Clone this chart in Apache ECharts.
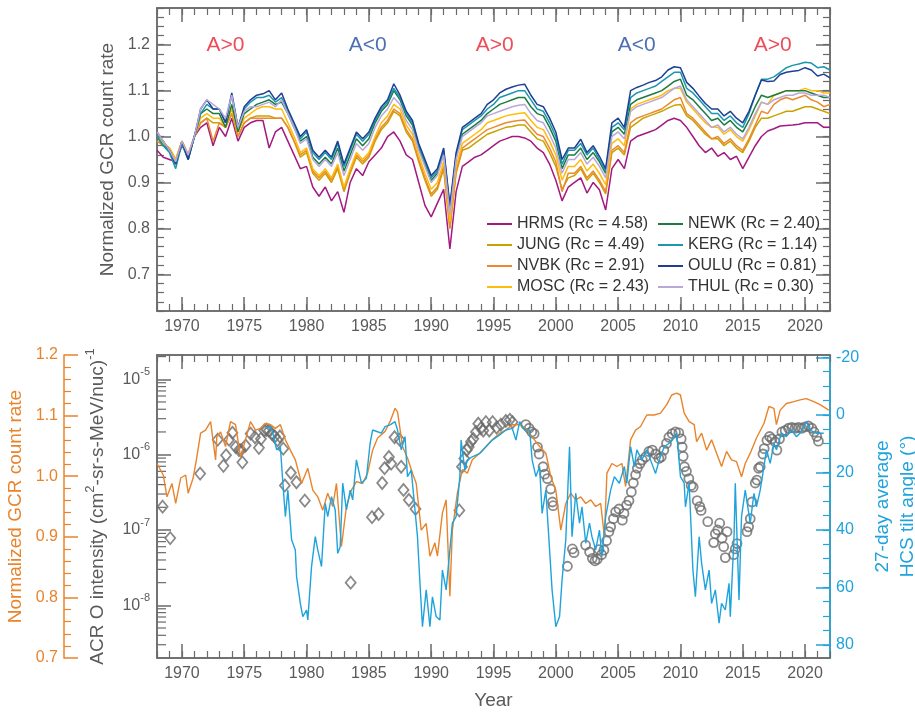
<!DOCTYPE html>
<html>
<head>
<meta charset="utf-8">
<script src="https://cdn.jsdelivr.net/npm/echarts@6/dist/echarts.min.js"></script>
<style>
  html, body { margin: 0; padding: 0; background: #fff; }
  #chart { width: 915px; height: 712px; }
</style>
</head>
<body>
<div id="chart"></div>
<script>
// ---- top panel: neutron monitor count rates, half-year samples ----
const years = [
  1968, 1968.5, 1969, 1969.5, 1970, 1970.5, 1971, 1971.5,
  1972, 1972.5, 1973, 1973.5, 1974, 1974.5, 1975, 1975.5,
  1976, 1976.5, 1977, 1977.5, 1978, 1978.5, 1979, 1979.5,
  1980, 1980.5, 1981, 1981.5, 1982, 1982.5, 1983, 1983.5,
  1984, 1984.5, 1985, 1985.5, 1986, 1986.5, 1987, 1987.5,
  1988, 1988.5, 1989, 1989.5, 1990, 1990.5, 1991, 1991.5,
  1992, 1992.5, 1993, 1993.5, 1994, 1994.5, 1995, 1995.5,
  1996, 1996.5, 1997, 1997.5, 1998, 1998.5, 1999, 1999.5,
  2000, 2000.5, 2001, 2001.5, 2002, 2002.5, 2003, 2003.5,
  2004, 2004.5, 2005, 2005.5, 2006, 2006.5, 2007, 2007.5,
  2008, 2008.5, 2009, 2009.5, 2010, 2010.5, 2011, 2011.5,
  2012, 2012.5, 2013, 2013.5, 2014, 2014.5, 2015, 2015.5,
  2016, 2016.5, 2017, 2017.5, 2018, 2018.5, 2019, 2019.5,
  2020, 2020.5, 2021, 2021.5, 2022
];

const hrms = [
  0.970, 0.955, 0.950, 0.945, 0.980, 0.960, 1.000, 1.020,
  1.030, 0.980, 1.020, 1.000, 1.040, 0.990, 1.020, 1.030,
  1.035, 1.035, 0.975, 1.010, 1.020, 0.990, 0.960, 0.930,
  0.935, 0.890, 0.870, 0.890, 0.860, 0.880, 0.835, 0.900,
  0.930, 0.915, 0.945, 0.960, 0.975, 1.000, 1.010, 0.990,
  0.960, 0.950, 0.900, 0.850, 0.825, 0.855, 0.885, 0.755,
  0.880, 0.935, 0.945, 0.955, 0.960, 0.970, 0.980, 0.990,
  0.995, 1.000, 1.000, 0.997, 0.990, 0.975, 0.965, 0.940,
  0.905, 0.860, 0.890, 0.900, 0.910, 0.877, 0.900, 0.884,
  0.840, 0.930, 0.950, 0.930, 0.990, 1.000, 1.005, 1.010,
  1.015, 1.025, 1.035, 1.040, 1.035, 1.020, 1.000, 0.980,
  0.965, 0.975, 0.957, 0.965, 0.950, 0.957, 0.930, 0.955,
  0.980, 1.000, 1.012, 1.017, 1.023, 1.024, 1.025, 1.027,
  1.030, 1.030, 1.030, 1.020, 1.020
];
const jung = [
  1.000, 0.985, 0.975, 0.950, 0.990, 0.960, 1.000, 1.030,
  1.040, 1.030, 1.030, 1.020, 1.050, 1.000, 1.030, 1.040,
  1.045, 1.045, 1.045, 1.040, 1.040, 1.020, 0.990, 0.955,
  0.965, 0.920, 0.905, 0.920, 0.900, 0.930, 0.880, 0.920,
  0.955, 0.940, 0.955, 0.990, 1.015, 1.030, 1.055, 1.045,
  1.010, 0.990, 0.945, 0.905, 0.870, 0.885, 0.930, 0.800,
  0.920, 0.970, 0.975, 0.985, 0.995, 1.005, 1.010, 1.015,
  1.020, 1.022, 1.025, 1.025, 1.010, 0.995, 0.990, 0.965,
  0.935, 0.885, 0.910, 0.915, 0.930, 0.905, 0.920, 0.900,
  0.875, 0.965, 0.975, 0.960, 1.020, 1.030, 1.040, 1.045,
  1.050, 1.055, 1.062, 1.068, 1.070, 1.045, 1.035, 1.020,
  1.005, 0.995, 0.995, 0.980, 0.990, 0.975, 0.965, 0.990,
  1.020, 1.040, 1.040, 1.045, 1.050, 1.055, 1.055, 1.060,
  1.065, 1.065, 1.060, 1.055, 1.050
];
const nvbk = [
  0.990, 0.980, 0.975, 0.950, 0.990, 0.960, 1.000, 1.030,
  1.040, 0.990, 1.030, 1.020, 1.050, 1.000, 1.030, 1.040,
  1.040, 1.040, 1.040, 1.040, 1.040, 1.020, 0.990, 0.960,
  0.970, 0.925, 0.910, 0.925, 0.905, 0.935, 0.885, 0.925,
  0.960, 0.945, 0.960, 0.995, 1.020, 1.035, 1.060, 1.050,
  1.015, 0.995, 0.950, 0.910, 0.875, 0.890, 0.935, 0.800,
  0.925, 0.975, 0.985, 0.995, 1.005, 1.015, 1.020, 1.025,
  1.030, 1.033, 1.035, 1.036, 1.020, 1.005, 1.000, 0.975,
  0.945, 0.880, 0.920, 0.920, 0.935, 0.910, 0.925, 0.905,
  0.880, 0.970, 0.980, 0.965, 1.030, 1.040, 1.045, 1.050,
  1.055, 1.060, 1.070, 1.080, 1.085, 1.050, 1.040, 1.025,
  1.010, 0.995, 1.000, 0.985, 0.995, 0.980, 0.970, 0.995,
  1.025, 1.055, 1.050, 1.070, 1.080, 1.085, 1.080, 1.085,
  1.090, 1.080, 1.075, 1.065, 1.070
];
const mosc = [
  1.000, 0.985, 0.975, 0.950, 0.990, 0.960, 1.000, 1.040,
  1.050, 1.040, 1.040, 1.020, 1.060, 1.010, 1.040, 1.050,
  1.060, 1.065, 1.065, 1.060, 1.060, 1.030, 1.000, 0.965,
  0.975, 0.930, 0.915, 0.930, 0.910, 0.940, 0.890, 0.930,
  0.965, 0.950, 0.965, 1.000, 1.030, 1.045, 1.070, 1.060,
  1.025, 1.005, 0.960, 0.920, 0.885, 0.900, 0.945, 0.815,
  0.935, 0.985, 0.995, 1.005, 1.015, 1.030, 1.035, 1.040,
  1.045, 1.048, 1.050, 1.052, 1.035, 1.020, 1.015, 0.990,
  0.960, 0.905, 0.935, 0.935, 0.950, 0.925, 0.940, 0.920,
  0.895, 0.985, 0.995, 0.980, 1.060, 1.070, 1.075, 1.080,
  1.085, 1.090, 1.100, 1.105, 1.105, 1.075, 1.060, 1.045,
  1.030, 1.020, 1.020, 1.005, 1.015, 1.000, 0.990, 1.015,
  1.045, 1.075, 1.070, 1.090, 1.095, 1.100, 1.100, 1.100,
  1.105, 1.100, 1.100, 1.095, 1.095
];
const newk = [
  1.000, 0.980, 0.970, 0.940, 0.985, 0.950, 1.000, 1.050,
  1.060, 1.050, 1.050, 1.020, 1.070, 1.010, 1.050, 1.060,
  1.070, 1.075, 1.080, 1.070, 1.075, 1.050, 1.020, 0.990,
  1.000, 0.955, 0.940, 0.955, 0.940, 0.975, 0.925, 0.960,
  0.995, 0.980, 0.995, 1.030, 1.055, 1.070, 1.100, 1.080,
  1.045, 1.025, 0.975, 0.940, 0.905, 0.920, 0.965, 0.840,
  0.955, 1.005, 1.015, 1.025, 1.035, 1.050, 1.060, 1.070,
  1.075, 1.080, 1.085, 1.085, 1.065, 1.050, 1.045, 1.020,
  0.990, 0.930, 0.960, 0.960, 0.975, 0.950, 0.965, 0.945,
  0.920, 1.010, 1.020, 1.005, 1.070, 1.080, 1.085, 1.090,
  1.095, 1.100, 1.110, 1.120, 1.125, 1.090, 1.080, 1.065,
  1.050, 1.035, 1.040, 1.025, 1.035, 1.020, 1.010, 1.035,
  1.065, 1.090, 1.085, 1.090, 1.095, 1.100, 1.100, 1.100,
  1.100, 1.095, 1.090, 1.085, 1.085
];
const kerg = [
  1.000, 0.980, 0.965, 0.930, 0.985, 0.950, 1.000, 1.050,
  1.070, 1.060, 1.060, 1.030, 1.090, 1.020, 1.060, 1.075,
  1.085, 1.085, 1.090, 1.075, 1.085, 1.055, 1.025, 0.995,
  1.010, 0.965, 0.950, 0.965, 0.950, 0.985, 0.935, 0.970,
  1.005, 0.990, 1.005, 1.035, 1.060, 1.075, 1.105, 1.085,
  1.050, 1.030, 0.980, 0.945, 0.910, 0.925, 0.970, 0.845,
  0.960, 1.015, 1.025, 1.035, 1.045, 1.060, 1.070, 1.085,
  1.090, 1.095, 1.100, 1.100, 1.080, 1.060, 1.055, 1.030,
  1.000, 0.940, 0.970, 0.970, 0.985, 0.960, 0.975, 0.950,
  0.925, 1.020, 1.030, 1.015, 1.085, 1.095, 1.100, 1.105,
  1.110, 1.120, 1.130, 1.140, 1.140, 1.105, 1.095, 1.080,
  1.065, 1.050, 1.050, 1.035, 1.045, 1.030, 1.020, 1.050,
  1.090, 1.125, 1.125, 1.130, 1.140, 1.150, 1.155, 1.158,
  1.162, 1.160, 1.150, 1.152, 1.145
];
const oulu = [
  1.010, 0.990, 0.970, 0.940, 0.990, 0.950, 1.000, 1.060,
  1.080, 1.060, 1.060, 1.030, 1.095, 1.020, 1.065, 1.080,
  1.090, 1.093, 1.100, 1.080, 1.095, 1.060, 1.030, 1.000,
  1.015, 0.970, 0.955, 0.970, 0.955, 0.990, 0.940, 0.975,
  1.010, 0.995, 1.010, 1.040, 1.065, 1.080, 1.115, 1.090,
  1.055, 1.035, 0.985, 0.950, 0.915, 0.930, 0.975, 0.850,
  0.965, 1.020, 1.030, 1.040, 1.050, 1.070, 1.080, 1.095,
  1.103, 1.108, 1.112, 1.114, 1.090, 1.070, 1.065, 1.040,
  1.010, 0.950, 0.975, 0.975, 0.994, 0.965, 0.980, 0.957,
  0.930, 1.030, 1.040, 1.020, 1.100, 1.107, 1.112, 1.118,
  1.122, 1.130, 1.145, 1.152, 1.150, 1.118, 1.105, 1.088,
  1.072, 1.060, 1.060, 1.045, 1.055, 1.040, 1.030, 1.055,
  1.090, 1.123, 1.120, 1.121, 1.135, 1.140, 1.142, 1.144,
  1.150, 1.145, 1.132, 1.136, 1.128
];
const thul = [
  1.010, 0.990, 0.970, 0.945, 0.990, 0.960, 1.000, 1.060,
  1.080, 1.070, 1.060, 1.040, 1.090, 1.020, 1.055, 1.065,
  1.065, 1.070, 1.075, 1.065, 1.080, 1.050, 1.020, 0.985,
  0.995, 0.950, 0.935, 0.950, 0.935, 0.965, 0.915, 0.950,
  0.985, 0.970, 0.985, 1.020, 1.045, 1.060, 1.085, 1.070,
  1.035, 1.015, 0.970, 0.935, 0.900, 0.915, 0.960, 0.830,
  0.950, 1.000, 1.010, 1.020, 1.030, 1.045, 1.050, 1.055,
  1.060, 1.065, 1.068, 1.070, 1.050, 1.035, 1.030, 1.005,
  0.975, 0.920, 0.950, 0.950, 0.965, 0.940, 0.955, 0.935,
  0.910, 1.000, 1.010, 0.995, 1.055, 1.065, 1.070, 1.075,
  1.080, 1.085, 1.095, 1.105, 1.110, 1.080, 1.065, 1.050,
  1.035, 1.020, 1.025, 1.010, 1.020, 1.005, 0.995, 1.020,
  1.050, 1.075, 1.070, 1.080, 1.085, 1.090, 1.090, 1.095,
  1.095, 1.090, 1.090, 1.090, 1.085
];

const polarityYears = [1973.5, 1984.9, 1995.1, 2006.5, 2017.4];
const polarityText = ['A>0', 'A<0', 'A>0', 'A<0', 'A>0'];
const polarityLevel = 1.2;

// ---- bottom panel ----
// [year, normalized GCR count rate]
const gcrRate = [
  [1968.0,1.021],[1968.5,1.002],[1968.8,0.966],[1969.2,0.988],[1969.5,0.955],[1969.9,0.997],
  [1970.3,1.002],[1970.5,0.972],[1970.9,0.997],[1971.2,1.032],[1971.5,1.071],[1971.9,1.076],
  [1972.3,1.09],[1972.7,1.027],[1972.8,1.065],[1973.1,1.073],[1973.5,1.049],[1973.9,1.09],
  [1974.3,1.085],[1974.7,1.032],[1975.1,1.06],[1975.5,1.09],[1975.9,1.076],[1976.3,1.079],
  [1976.7,1.087],[1977.1,1.085],[1977.5,1.079],[1977.9,1.085],[1978.3,1.06],[1978.7,1.043],
  [1979.1,1.027],[1979.6,0.988],[1980.1,1.013],[1980.5,0.977],[1980.9,0.966],[1981.3,0.944],
  [1981.7,0.972],[1982.1,0.95],[1982.4,0.988],[1982.8,0.884],[1983.2,0.95],[1983.6,0.977],
  [1984.0,0.991],[1984.5,0.988],[1984.9,1.005],[1985.3,1.043],[1985.7,1.063],[1986.3,1.074],
  [1986.7,1.09],[1987.1,1.112],[1987.3,1.106],[1987.7,1.049],[1988.1,1.03],[1988.5,1.005],
  [1988.8,0.988],[1989.2,0.911],[1989.6,0.922],[1989.9,0.868],[1990.3,0.89],[1990.5,0.868],
  [1990.9,0.939],[1991.2,0.961],[1991.5,0.802],[1991.7,0.911],[1992.1,0.972],[1992.5,1.011],
  [1992.9,1.005],[1993.3,1.027],[1993.9,1.038],[1994.4,1.049],[1994.9,1.06],[1995.5,1.071],
  [1996.0,1.076],[1996.5,1.085],[1997.1,1.085],[1997.6,1.079],[1998.1,1.065],[1998.7,1.049],
  [1999.2,1.038],[1999.6,0.999],[2000.0,0.977],[2000.4,0.911],[2000.8,0.955],[2001.2,0.972],
  [2001.6,0.961],[2002.0,0.966],[2002.4,0.955],[2002.8,0.961],[2003.2,0.95],[2003.6,0.955],
  [2003.9,0.9],[2004.1,1.005],[2004.5,1.021],[2004.9,1.016],[2005.3,1.021],[2005.6,0.983],
  [2006.0,1.06],[2006.4,1.076],[2006.8,1.082],[2007.3,1.101],[2007.9,1.101],[2008.4,1.104],
  [2008.9,1.118],[2009.3,1.134],[2009.7,1.137],[2010.0,1.134],[2010.3,1.104],[2010.7,1.09],
  [2011.1,1.085],[2011.3,1.057],[2011.7,1.071],[2012.1,1.043],[2012.5,1.06],[2012.9,1.038],
  [2013.3,1.016],[2013.7,1.041],[2014.1,1.027],[2014.5,1.024],[2014.9,0.999],[2015.2,1.021],
  [2015.6,1.038],[2016.1,1.063],[2016.7,1.087],[2017.1,1.115],[2017.5,1.112],[2017.7,1.085],
  [2018.0,1.109],[2018.5,1.12],[2019.1,1.123],[2019.6,1.126],[2020.1,1.128],[2020.7,1.123],
  [2021.2,1.118],[2021.9,1.109]
];

// [year, 27-day average HCS tilt angle (deg)]
const tiltAngle = [
  [1976.7,4.7],[1977.1,4.1],[1977.3,6.4],[1977.6,12.2],[1977.9,11.1],[1978.1,23.8],[1978.3,35.4],
  [1978.5,26.2],[1978.8,43.5],[1979.1,47.0],[1979.2,56.3],[1979.5,65.6],[1979.7,70.2],[1980.0,67.9],
  [1980.1,71.4],[1980.4,52.8],[1980.7,42.4],[1980.9,47.0],[1981.2,52.8],[1981.5,30.8],[1981.7,35.4],
  [1982.0,28.5],[1982.3,33.1],[1982.5,48.2],[1982.7,45.9],[1982.9,23.8],[1983.2,33.1],[1983.5,26.2],
  [1983.7,29.6],[1984.0,15.7],[1984.4,23.8],[1984.8,22.1],[1985.1,9.9],[1985.3,5.3],[1985.7,5.9],
  [1986.0,6.4],[1986.3,4.1],[1986.7,3.5],[1987.1,2.4],[1987.3,5.3],[1987.6,12.2],[1987.9,7.6],
  [1988.1,21.5],[1988.4,19.2],[1988.7,33.1],[1988.9,42.4],[1989.1,58.6],[1989.3,73.7],[1989.6,60.9],
  [1989.9,73.7],[1990.1,63.3],[1990.4,70.2],[1990.7,71.4],[1990.9,54.0],[1991.2,60.9],[1991.5,47.0],
  [1991.7,37.7],[1992.0,35.4],[1992.3,21.5],[1992.4,8.8],[1992.7,19.2],[1992.9,15.7],[1993.3,14.6],
  [1993.9,13.4],[1994.4,11.1],[1994.9,8.8],[1995.5,7.0],[1996.0,5.3],[1996.5,4.7],[1996.8,8.8],
  [1997.1,2.4],[1997.5,5.3],[1997.9,5.3],[1998.1,15.7],[1998.4,21.5],[1998.7,18.0],[1998.9,34.3],
  [1999.2,26.2],[1999.5,47.0],[1999.7,60.9],[2000.0,73.7],[2000.3,70.2],[2000.5,57.5],[2000.8,43.5],
  [2001.1,11.1],[2001.3,42.4],[2001.6,27.3],[2001.9,37.7],[2002.1,32.0],[2002.4,44.7],[2002.7,37.7],
  [2002.9,42.4],[2003.2,47.0],[2003.5,40.1],[2003.7,49.4],[2004.0,35.4],[2004.4,26.2],[2004.7,21.5],
  [2005.1,23.8],[2005.5,18.0],[2005.7,23.8],[2006.0,11.1],[2006.3,18.0],[2006.5,12.2],[2006.9,15.7],
  [2007.3,12.2],[2007.7,16.9],[2008.0,20.4],[2008.3,15.7],[2008.7,11.1],[2009.1,9.9],[2009.5,7.6],
  [2009.7,6.4],[2010.0,21.5],[2010.3,23.8],[2010.4,32.0],[2010.7,23.8],[2011.0,54.0],[2011.2,63.3],
  [2011.5,42.4],[2011.7,51.7],[2012.0,60.9],[2012.3,54.0],[2012.5,65.6],[2012.8,60.9],[2013.1,72.5],
  [2013.3,65.6],[2013.6,67.9],[2013.9,58.6],[2014.0,70.2],[2014.3,42.4],[2014.4,23.8],[2014.7,64.4],
  [2014.9,35.4],[2015.2,26.2],[2015.6,37.7],[2015.9,27.3],[2016.1,32.0],[2016.4,26.2],[2016.7,18.0],
  [2016.9,12.2],[2017.2,16.9],[2017.5,9.9],[2017.7,12.2],[2018.1,6.4],[2018.5,7.6],[2018.9,5.3],
  [2019.3,7.6],[2019.7,5.9],[2020.1,2.4],[2020.4,5.3],[2020.9,6.4],[2021.5,6.4]
];

// [year, ACR O intensity], earlier spacecraft (diamonds)
const acrEarly = [
  [1968.45,2.04e-7],[1969.06,7.8e-8],[1971.46,5.6e-7],[1972.87,1.58e-6],[1973.33,7.1e-7],
  [1973.54,9.8e-7],[1973.78,1.58e-6],[1974.05,1.95e-6],[1974.31,1.26e-6],[1974.58,1.15e-6],
  [1974.74,1.15e-6],[1974.85,7.9e-7],[1975.11,1.32e-6],[1975.51,1.9e-6],[1975.86,1.7e-6],
  [1976.18,1.23e-6],[1976.34,1.62e-6],[1976.61,2.09e-6],[1976.79,2.14e-6],[1976.98,2.09e-6],
  [1977.19,1.9e-6],[1977.46,1.74e-6],[1977.67,1.55e-6],[1977.86,1.74e-6],[1978.13,1.2e-6],
  [1978.26,3.9e-7],[1978.74,5.75e-7],[1979.19,4.3e-7],[1979.86,2.45e-7],[1983.54,2.0e-8],
  [1985.25,1.48e-7],[1985.78,1.62e-7],[1986.07,4.2e-7],[1986.26,6.6e-7],[1986.61,9.3e-7],
  [1986.79,7.6e-7],[1987.06,1.7e-6],[1987.46,1.58e-6],[1987.59,6.9e-7],[1987.78,3.4e-7],
  [1988.21,2.5e-7],[1988.74,1.9e-7],[1992.26,1.82e-7],[1992.47,6.9e-7],[1992.66,8.9e-7],
  [1992.85,1.15e-6],[1993.01,1.26e-6],[1993.19,1.48e-6],[1993.38,1.62e-6],[1993.59,2.0e-6],
  [1993.78,2.57e-6],[1993.99,2.24e-6],[1994.18,2.09e-6],[1994.39,2.7e-6],[1994.66,2.09e-6],
  [1994.93,2.7e-6],[1995.25,2.29e-6],[1995.59,2.5e-6],[1995.99,2.8e-6],[1996.31,2.9e-6],
  [1996.53,2.7e-6]
];

// [year, ACR O intensity], later spacecraft (circles)
const acrLate = [
  [1997.59,2.5e-6],[1997.86,2.24e-6],[1998.07,2.0e-6],[1998.26,1.9e-6],[1998.53,1.26e-6],
  [1998.66,1.02e-6],[1998.98,6.9e-7],[1999.11,5.5e-7],[1999.33,4.8e-7],[1999.59,3.5e-7],
  [1999.73,2.35e-7],[1999.78,2.1e-7],[2000.93,3.3e-8],[2001.33,5.6e-8],[2001.46,5.0e-8],
  [2002.39,6.3e-8],[2002.71,5.1e-8],[2002.93,4.2e-8],[2003.14,3.9e-8],[2003.33,4.1e-8],
  [2003.46,5.5e-8],[2003.67,4.7e-8],[2003.86,5.4e-8],[2004.07,7.2e-8],[2004.26,9.5e-8],
  [2004.40,1.1e-7],[2004.62,1.41e-7],[2004.80,1.74e-7],[2005.07,1.9e-7],[2005.34,1.35e-7],
  [2005.47,1.66e-7],[2005.68,2.14e-7],[2005.87,2.45e-7],[2006.06,3.2e-7],[2006.22,4.2e-7],
  [2006.40,5.4e-7],[2006.54,6.6e-7],[2006.75,7.6e-7],[2006.94,8.5e-7],[2007.20,9.3e-7],
  [2007.47,1.1e-6],[2007.74,1.15e-6],[2008.00,1.02e-6],[2008.27,8.9e-7],[2008.46,9.3e-7],
  [2008.67,1.15e-6],[2008.88,1.41e-6],[2009.07,1.7e-6],[2009.34,1.9e-6],[2009.60,2.0e-6],
  [2009.87,1.95e-6],[2010.06,1.62e-6],[2010.14,1.26e-6],[2010.22,9.5e-7],[2010.32,6.9e-7],
  [2010.48,6.0e-7],[2010.67,4.8e-7],[2010.86,3.9e-7],[2011.02,3.7e-7],[2011.34,2.45e-7],
  [2011.55,2.04e-7],[2011.66,1.82e-7],[2012.19,1.29e-7],[2012.67,6.8e-8],[2012.80,8.9e-8],
  [2012.99,1.0e-7],[2013.15,1.23e-7],[2013.34,7.8e-8],[2013.47,6.0e-8],[2013.60,4.3e-8],
  [2013.74,9.5e-8],[2014.27,4.7e-8],[2014.40,5.6e-8],[2014.54,6.6e-8],[2015.34,9.5e-8],
  [2015.47,1.1e-7],[2015.60,1.41e-7],[2015.74,2.35e-7],[2016.00,4.2e-7],[2016.14,4.6e-7],
  [2016.27,6.6e-7],[2016.40,6.9e-7],[2016.62,1.02e-6],[2016.72,1.2e-6],[2016.94,1.55e-6],
  [2017.15,1.74e-6],[2017.34,1.62e-6],[2017.60,1.48e-6],[2017.74,1.15e-6],[2017.95,1.62e-6],
  [2018.14,2.0e-6],[2018.40,2.09e-6],[2018.67,2.24e-6],[2018.94,2.29e-6],[2019.20,2.24e-6],
  [2019.47,2.29e-6],[2019.74,2.24e-6],[2020.00,2.34e-6],[2020.27,2.4e-6],[2020.54,2.24e-6],
  [2020.72,2.0e-6],[2020.94,1.74e-6],[2021.07,1.51e-6]
];

const yearTicks = [1970, 1975, 1980, 1985, 1990, 1995, 2000, 2005, 2010, 2015, 2020];
const gcrTicks = [0.7, 0.8, 0.9, 1.0, 1.1, 1.2];
const tiltTicks = [-20, 0, 20, 40, 60, 80];
const tiltMinorTicks = [-20, -15, -10, -5, 0, 5, 10, 15, 20, 25, 30, 35, 40, 45, 50, 55, 60, 65, 70, 75, 80];

const FONT = '"Liberation Sans", Arial, Helvetica, sans-serif';
const GRAY = '#5a5a5a';
const FRAME = '#6a6a6a';
const ORANGE = '#e8842c';
const BLUE = '#1ea3dc';
const MARK = '#6b6b6b';

const stations = [
  { name: 'HRMS (Rc = 4.58)', values: hrms, color: '#a3197f' },
  { name: 'JUNG (Rc = 4.49)', values: jung, color: '#c9a200' },
  { name: 'NVBK (Rc = 2.91)', values: nvbk, color: '#eb8a2f' },
  { name: 'MOSC (Rc = 2.43)', values: mosc, color: '#ffbd0a' },
  { name: 'NEWK (Rc = 2.40)', values: newk, color: '#1b7c40' },
  { name: 'KERG (Rc = 1.14)', values: kerg, color: '#1998ac' },
  { name: 'OULU (Rc = 0.81)', values: oulu, color: '#1f3f94' },
  { name: 'THUL (Rc = 0.30)', values: thul, color: '#b9a8d9' }
];

const X_MIN = 1968, X_MAX = 2022;
const LOG_MIN = 2e-9, LOG_MAX = 2.1e-5;

// log-axis minor tick positions (2..9 x 10^n)
const logMinor = [];
for (let e = -9; e <= -5; e++) {
  for (let k = 2; k <= 9; k++) {
    const v = k * Math.pow(10, e);
    if (v > LOG_MIN && v < LOG_MAX) logMinor.push(v);
  }
}

function xMajor(grid, pos, showLabels, extra) {
  return Object.assign({
    type: 'value', gridIndex: grid, position: pos, min: X_MIN, max: X_MAX,
    axisLine: { show: true, onZero: false, lineStyle: { color: FRAME, width: 1.5 } },
    axisTick: { show: true, inside: true, length: 14, customValues: yearTicks,
      lineStyle: { color: FRAME, width: 1.5 } },
    axisLabel: { show: showLabels, customValues: yearTicks, formatter: v => String(v),
      color: GRAY, fontSize: 16, fontFamily: FONT, margin: 8 },
    splitLine: { show: false }
  }, extra || {});
}
function xMinor(grid, pos) {
  return {
    type: 'value', gridIndex: grid, position: pos, min: X_MIN, max: X_MAX, interval: 1,
    axisLine: { show: false, onZero: false },
    axisTick: { show: true, inside: true, length: 7, lineStyle: { color: FRAME, width: 1.2 } },
    axisLabel: { show: false }, splitLine: { show: false }
  };
}
function gcrMajor(pos, showLabels, extra) {
  return Object.assign({
    type: 'value', gridIndex: 0, position: pos, min: 0.62, max: 1.28,
    axisLine: { show: true, onZero: false, lineStyle: { color: FRAME, width: 1.5 } },
    axisTick: { show: true, inside: true, length: 14, customValues: gcrTicks,
      lineStyle: { color: FRAME, width: 1.5 } },
    axisLabel: { show: showLabels, customValues: gcrTicks, formatter: v => v.toFixed(1),
      color: GRAY, fontSize: 16, fontFamily: FONT, margin: 7 },
    splitLine: { show: false }
  }, extra || {});
}
function gcrMinor(pos) {
  return {
    type: 'value', gridIndex: 0, position: pos, min: 0.62, max: 1.28, interval: 0.02,
    axisLine: { show: false, onZero: false },
    axisTick: { show: true, inside: true, length: 7, lineStyle: { color: FRAME, width: 1.2 } },
    axisLabel: { show: false }, splitLine: { show: false }
  };
}

const legendBase = {
  orient: 'vertical', top: 210, icon: 'rect', itemWidth: 25, itemHeight: 2, itemGap: 3,
  selectedMode: false,
  textStyle: { fontSize: 16, color: '#333', fontFamily: FONT, lineHeight: 18 }
};

const chart = echarts.init(document.getElementById('chart'), null, { renderer: 'canvas' });

const option = {
  backgroundColor: '#fff',
  animation: false,
  textStyle: { fontFamily: FONT },
  grid: [
    { left: 157, top: 8, right: 85, height: 303, show: true, borderColor: FRAME, borderWidth: 1.5,
      backgroundColor: 'transparent', containLabel: false, outerBoundsMode: 'none' },
    { left: 157, top: 355, right: 85, height: 303, show: true, borderColor: FRAME, borderWidth: 1.5,
      backgroundColor: 'transparent', containLabel: false, outerBoundsMode: 'none' }
  ],
  legend: [
    Object.assign({ data: stations.slice(0, 4).map(s => s.name), left: 482 }, legendBase),
    Object.assign({ data: stations.slice(4).map(s => s.name), left: 653 }, legendBase)
  ],
  xAxis: [
    xMajor(0, 'bottom', true),
    xMinor(0, 'bottom'),
    xMajor(0, 'top', false),
    xMinor(0, 'top'),
    xMajor(1, 'bottom', true, {
      name: 'Year', nameLocation: 'middle', nameGap: 33,
      nameTextStyle: { fontSize: 19, color: GRAY, fontFamily: FONT }
    }),
    xMinor(1, 'bottom'),
    xMajor(1, 'top', false),
    xMinor(1, 'top')
  ],
  yAxis: [
    gcrMajor('left', true, {
      name: 'Normalized GCR count rate', nameLocation: 'middle', nameRotate: 90, nameGap: 33,
      nameTextStyle: { fontSize: 19, color: GRAY, fontFamily: FONT }
    }),
    gcrMinor('left'),
    gcrMajor('right', false),
    gcrMinor('right'),
    // orange GCR axis, pushed out to the left
    {
      type: 'value', gridIndex: 1, position: 'left', offset: 93, min: 0.7, max: 1.2, interval: 0.1,
      axisLine: { show: true, onZero: false, lineStyle: { color: ORANGE, width: 1.5 } },
      axisTick: { show: true, inside: true, length: 14, lineStyle: { color: ORANGE, width: 1.5 } },
      minorTick: { show: true, splitNumber: 5, length: 7, lineStyle: { color: ORANGE, width: 1.2 } },
      axisLabel: { color: ORANGE, fontSize: 16, fontFamily: FONT, margin: 6, formatter: v => v.toFixed(1) },
      splitLine: { show: false }, minorSplitLine: { show: false },
      name: 'Normalized GCR count rate', nameLocation: 'middle', nameRotate: 90, nameGap: 33,
      nameTextStyle: { fontSize: 19, color: ORANGE, fontFamily: FONT }
    },
    // log ACR axis
    {
      type: 'log', logBase: 10, gridIndex: 1, position: 'left', min: LOG_MIN, max: LOG_MAX,
      axisLine: { show: true, onZero: false, lineStyle: { color: FRAME, width: 1.5 } },
      axisTick: { show: true, inside: true, length: 14, lineStyle: { color: FRAME, width: 1.5 } },
      axisLabel: {
        showMinLabel: false, showMaxLabel: false, margin: 7,
        formatter: v => {
          const e = Math.log10(v);
          const r = Math.round(e);
          if (Math.abs(e - r) > 1e-6) return '';
          return '{b|10}{s|' + r + '}';
        },
        rich: {
          b: { fontSize: 16, color: GRAY, fontFamily: FONT, lineHeight: 26 },
          s: { fontSize: 11, color: GRAY, fontFamily: FONT, verticalAlign: 'top', lineHeight: 13 }
        }
      },
      splitLine: { show: false },
      name: 'ACR O intensity (cm{s|2}-sr-s-MeV/nuc){s|-1}', nameLocation: 'middle', nameRotate: 90, nameGap: 40,
      nameTextStyle: {
        fontSize: 19, color: GRAY, fontFamily: FONT, lineHeight: 28,
        rich: { s: { fontSize: 13, color: GRAY, fontFamily: FONT, verticalAlign: 'top', lineHeight: 14 } }
      }
    },
    // HCS tilt angle axis (inverted)
    {
      type: 'value', gridIndex: 1, position: 'right', inverse: true, min: -20.8, max: 84.6,
      axisLine: { show: true, onZero: false, lineStyle: { color: BLUE, width: 1.5 } },
      axisTick: { show: true, inside: true, length: 14, customValues: tiltTicks,
        lineStyle: { color: BLUE, width: 1.5 } },
      axisLabel: { customValues: tiltTicks, color: BLUE, fontSize: 16, fontFamily: FONT, margin: 6 },
      splitLine: { show: false },
      name: '27-day average\nHCS tilt angle (°)', nameLocation: 'middle', nameRotate: 90, nameGap: 38,
      nameTextStyle: { fontSize: 19, color: BLUE, fontFamily: FONT, lineHeight: 25 }
    },
    {
      type: 'value', gridIndex: 1, position: 'right', inverse: true, min: -20.8, max: 84.6,
      axisLine: { show: false, onZero: false },
      axisTick: { show: true, inside: true, length: 7, customValues: tiltMinorTicks,
        lineStyle: { color: BLUE, width: 1.2 } },
      axisLabel: { show: false }, splitLine: { show: false }
    }
  ],
  series: [
    ...stations.map(st => ({
      type: 'line', name: st.name, xAxisIndex: 0, yAxisIndex: 0,
      data: years.map((y, i) => [y, st.values[i]]),
      symbol: 'none', showSymbol: false,
      lineStyle: { width: 1.5, color: st.color }, itemStyle: { color: st.color },
      silent: true
    })),
    {
      type: 'scatter', xAxisIndex: 0, yAxisIndex: 0, symbolSize: 0, silent: true,
      data: polarityYears.map((x, i) => ({
        value: [x, polarityLevel],
        label: { formatter: polarityText[i], color: polarityText[i] === 'A>0' ? '#e8202e' : '#1f4ca0' }
      })),
      label: { show: true, position: 'inside', fontSize: 21, fontFamily: FONT }
    },
    {
      type: 'line', name: 'GCR', xAxisIndex: 4, yAxisIndex: 4, data: gcrRate,
      symbol: 'none', showSymbol: false, lineStyle: { width: 1.4, color: ORANGE }, silent: true
    },
    {
      type: 'line', name: 'Tilt', xAxisIndex: 4, yAxisIndex: 6, data: tiltAngle,
      symbol: 'none', showSymbol: false, lineStyle: { width: 1.4, color: BLUE }, silent: true
    },
    {
      type: 'scatter', xAxisIndex: 4, yAxisIndex: 5, data: acrEarly, symbol: 'diamond',
      symbolSize: [10, 12], silent: true,
      itemStyle: { color: 'rgba(255,255,255,0)', borderColor: MARK, borderWidth: 1.8 }
    },
    {
      type: 'scatter', xAxisIndex: 4, yAxisIndex: 5, data: acrLate, symbol: 'circle',
      symbolSize: 9, silent: true,
      itemStyle: { color: 'rgba(255,255,255,0)', borderColor: MARK, borderWidth: 1.8 }
    },
    {
      type: 'custom', xAxisIndex: 4, yAxisIndex: 5, silent: true, clip: false,
      data: logMinor.map(v => [X_MIN, v]),
      renderItem: (params, api) => {
        const p = api.coord([api.value(0), api.value(1)]);
        return { type: 'line', shape: { x1: p[0], y1: p[1], x2: p[0] + 9, y2: p[1] },
          style: { stroke: FRAME, lineWidth: 1.2 } };
      }
    }
  ]
};

chart.setOption(option);
</script>
</body>
</html>
